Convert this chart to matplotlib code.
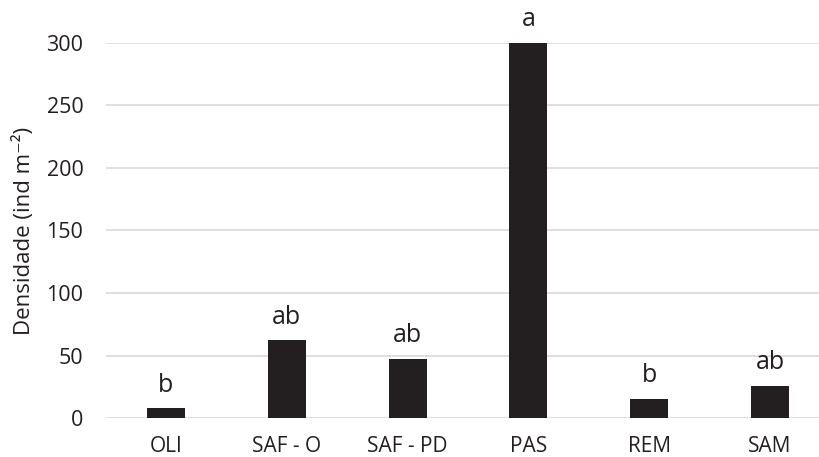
import matplotlib
matplotlib.use("Agg")
import matplotlib.pyplot as plt

categories = ["OLI", "SAF - O", "SAF - PD", "PAS", "REM", "SAM"]
values = [8, 62.5, 47.5, 300, 15.5, 26]
letters = ["b", "ab", "ab", "a", "b", "ab"]
yticks = [0, 50, 100, 150, 200, 250, 300]

plt.rcParams['font.family'] = ['Open Sans', 'DejaVu Sans']
txt = '#231f20'

fig = plt.figure(figsize=(8.19, 4.57), dpi=100)
W, H = 819, 457
left, right = 105.6, 830.4
top0, bot0 = 42.7, 418.3
ax = fig.add_axes([left / W, (H - bot0) / H, (right - left) / W, (bot0 - top0) / H])

x = range(len(categories))
ax.bar(x, values, width=0.315, color='#231f20', zorder=3)
ax.set_xlim(-0.5, len(categories) - 0.5)
ax.set_ylim(0, 300)
ax.set_yticks(yticks)
ax.set_xticks(list(x))
ax.set_xticklabels(categories)
ax.yaxis.grid(True, color='#d9d9d9', linewidth=1.2, zorder=0)
ax.set_axisbelow(True)
for s in ax.spines.values():
    s.set_visible(False)
ax.tick_params(axis='both', length=0, colors=txt)
ax.tick_params(axis='x', pad=13, labelsize=15)
ax.tick_params(axis='y', pad=16, labelsize=15.5)
ax.set_ylabel('Densidade (ind m⁻²)', fontsize=16, color=txt, labelpad=8)

for xi, v, l in zip(x, values, letters):
    ax.annotate(l, (xi, v), xytext=(0, 7.5), textcoords='offset points',
                ha='center', va='bottom', fontsize=18, color=txt)

fig.savefig('out.png', dpi=100)
